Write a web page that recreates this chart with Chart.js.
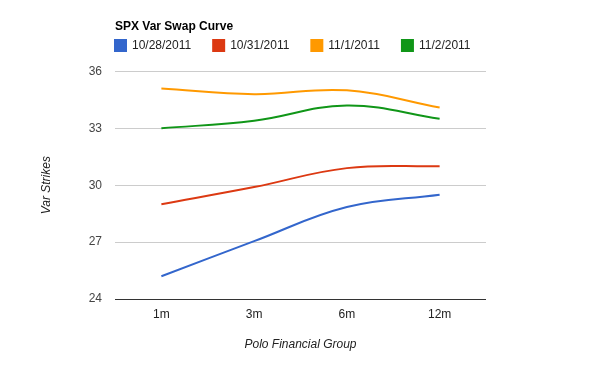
<!DOCTYPE html>
<html>
<head>
<meta charset="utf-8">
<script src="https://cdn.jsdelivr.net/npm/chart.js@4"></script>
<style>
  body { margin: 0; background: #fff; }
  #wrap { width: 600px; height: 371px; }
</style>
</head>
<body>
<div id="wrap"><canvas id="chart" width="600" height="371"></canvas></div>
<script>
const tenors = ['1m', '3m', '6m', '12m'];
const oct28 = [25.2, 27.05, 28.85, 29.5];
const oct31 = [29.0, 29.9, 30.9, 31.0];
const nov1 = [35.1, 34.8, 35.0, 34.1];
const nov2 = [33.0, 33.4, 34.2, 33.5];
const seriesNames = ['10/28/2011', '10/31/2011', '11/1/2011', '11/2/2011'];
const seriesColors = ['#3366cc', '#dc3912', '#ff9900', '#109618'];

Chart.defaults.font.family = 'Arial, "Liberation Sans", sans-serif';
Chart.defaults.font.size = 12;

// line the title and legend up with the left edge of the plot, like the original
const headerAlign = {
    id: 'headerAlign',
    afterLayout(chart) {
        const left = chart.chartArea.left;
        chart.titleBlock.left = left;
        chart.legend.left = left - chart.legend.options.labels.padding;
        chart.legend.right = chart.width;
        chart.legend.top -= 10;
    }
};

const ctx = document.getElementById('chart').getContext('2d');
new Chart(ctx, {
    type: 'line',
    data: {
        labels: tenors,
        datasets: [oct28, oct31, nov1, nov2].map((vals, i) => ({
            label: seriesNames[i],
            data: vals,
            borderColor: seriesColors[i],
            backgroundColor: seriesColors[i],
            borderWidth: 2,
            pointRadius: 0,
            tension: 0.4,
            fill: false
        }))
    },
    options: {
        responsive: false,
        animation: false,
        layout: { padding: { left: 0, right: 114, top: 0, bottom: 0 } },
        plugins: {
            title: {
                display: true,
                text: 'SPX Var Swap Curve',
                align: 'start',
                color: '#000',
                font: { size: 12, weight: 'bold' },
                padding: { top: 19, bottom: -6 }
            },
            legend: {
                display: true,
                align: 'start',
                labels: {
                    boxWidth: 11,
                    boxHeight: 11,
                    padding: 22,
                    color: '#222',
                    font: { size: 12 }
                }
            },
            tooltip: { enabled: false }
        },
        scales: {
            x: {
                offset: true,
                grid: { display: false, drawTicks: false },
                border: { display: false },
                ticks: { color: '#222', padding: 8 },
                title: {
                    display: true,
                    text: 'Polo Financial Group',
                    color: '#222',
                    font: { size: 12, style: 'italic' },
                    padding: { top: 16, bottom: 19 }
                },
                afterFit(scale) { scale.height = 72; }
            },
            y: {
                min: 24,
                max: 36,
                ticks: { stepSize: 3, color: '#444', padding: 13 },
                grid: {
                    drawTicks: false,
                    color: (c) => (c.tick && c.tick.value === 24 ? '#333' : '#ccc')
                },
                border: { display: false },
                title: {
                    display: true,
                    text: 'Var Strikes',
                    color: '#222',
                    font: { size: 12, style: 'italic' },
                    padding: { top: 39, bottom: 0 }
                },
                afterFit(scale) { scale.width = 115; }
            }
        }
    },
    plugins: [headerAlign]
});
</script>
</body>
</html>
